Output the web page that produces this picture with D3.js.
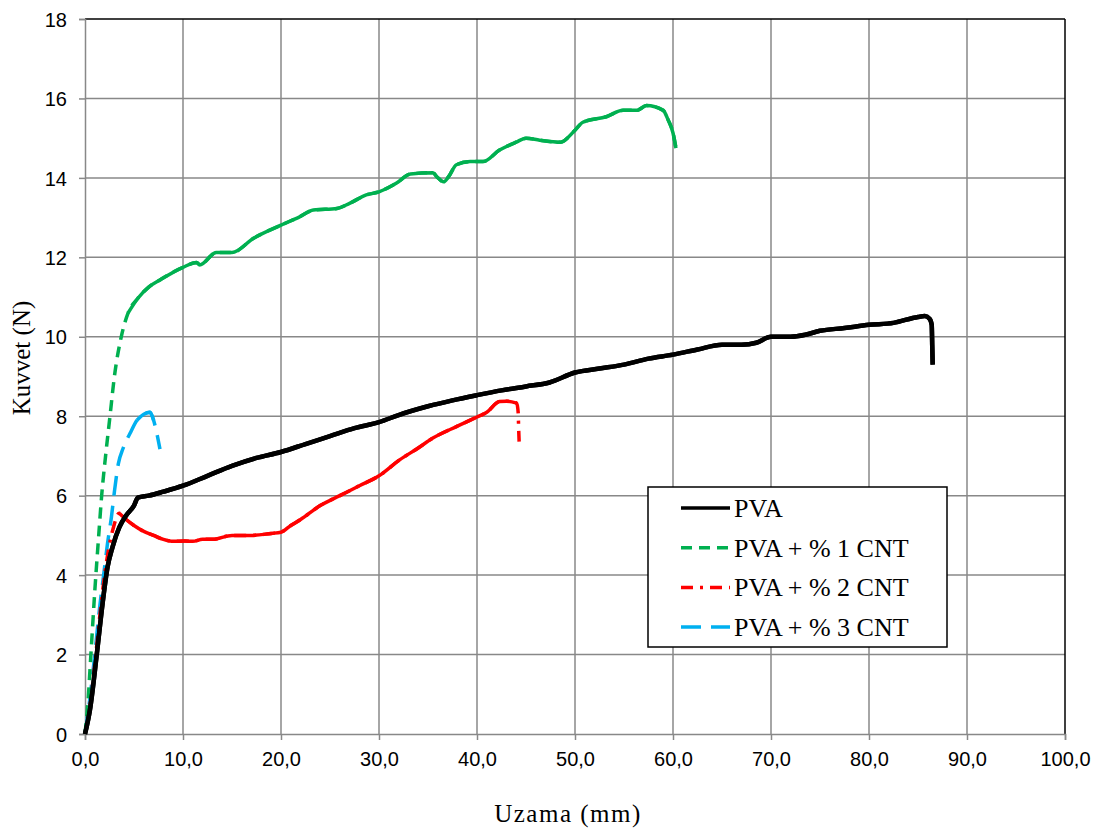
<!DOCTYPE html>
<html>
<head>
<meta charset="utf-8">
<script src="https://cdn.jsdelivr.net/npm/d3@7"></script>
<style>
  body { margin: 0; background: #fff; }
  .tick text { font-family: "Liberation Sans", Arial, sans-serif; font-size: 20px; fill: #000; }
</style>
</head>
<body>
<div id="chart"></div>
<script>
// values: [Uzama (mm), Kuvvet (N)]
var seriesNames = ["PVA", "PVA + % 1 CNT", "PVA + % 2 CNT", "PVA + % 3 CNT"];

var pva = [[0, 0], [0.5, 0.6], [1.2, 2], [1.8, 3.3], [2.3, 4.2], [2.8, 4.7], [3.5, 5.2], [4.2, 5.5],
  [5, 5.75], [5.4, 5.95], [6.5, 6.0], [8, 6.1], [10, 6.25], [12.5, 6.5], [15, 6.75], [17.5, 6.95],
  [20, 7.1], [22.5, 7.3], [25, 7.5], [27.5, 7.7], [30, 7.85], [32, 8.03], [35, 8.25], [37.5, 8.4],
  [40, 8.53], [42.5, 8.65], [45, 8.75], [47.4, 8.85], [50, 9.1], [52.5, 9.2], [55, 9.3], [57.5, 9.45],
  [60, 9.55], [62.5, 9.68], [65, 9.8], [67, 9.8], [68.5, 9.85], [70, 10.0], [72, 10.0], [73.5, 10.05],
  [75, 10.15], [77.5, 10.22], [80, 10.3], [82.5, 10.35], [85, 10.5], [85.7, 10.52], [86.2, 10.45],
  [86.4, 10.3], [86.45, 9.8], [86.5, 9.3]];

var cnt1 = [[0, 0], [0.3, 0.8], [0.6, 2], [1.0, 3.6], [1.4, 5], [1.7, 6], [2.1, 7], [2.55, 8],
  [3.0, 9], [3.7, 10], [4.4, 10.6], [5.4, 10.97], [6.5, 11.25], [7.65, 11.43], [10, 11.75], [11.4, 11.87],
  [11.7, 11.81], [13.4, 12.12], [15, 12.12], [17.2, 12.48], [20, 12.81], [21.9, 13.02], [23.3, 13.19],
  [25.7, 13.23], [27, 13.36], [28.7, 13.57], [30, 13.65], [31.8, 13.87], [33.2, 14.1], [35.5, 14.13],
  [35.9, 14.03], [36.6, 13.9], [37.1, 14.03], [37.9, 14.33], [39.3, 14.41], [40.6, 14.41], [42.3, 14.7],
  [44, 14.9], [45, 15.0], [46.4, 14.95], [48.5, 14.9], [50, 15.2], [50.8, 15.4], [53.2, 15.54],
  [54.9, 15.7], [56.3, 15.7], [57.3, 15.82], [59, 15.7], [59.5, 15.46], [60, 15.13], [60.3, 14.75]];

var cnt2 = [[0, 0], [0.5, 0.7], [1.1, 2], [1.7, 3.4], [2.3, 4.5], [2.9, 5.2], [3.5, 5.56], [4.2, 5.4],
  [5, 5.25], [6, 5.1], [7, 5.0], [8, 4.9], [9, 4.85], [10.2, 4.86], [11, 4.85], [12, 4.9], [13, 4.9],
  [15, 5.0], [17, 5.0], [19, 5.05], [20, 5.08], [21, 5.25], [22, 5.4], [24, 5.75], [26, 6.0],
  [28, 6.25], [30, 6.5], [32.1, 6.9], [34, 7.2], [35.5, 7.45], [38, 7.75], [40, 7.98], [41, 8.1],
  [42.3, 8.37], [43, 8.38], [44.05, 8.33], [44.2, 8.1], [44.25, 7.7], [44.3, 7.36]];

var cnt3 = [[0, 0], [0.5, 0.9], [1.0, 2], [1.5, 3.2], [1.9, 4], [2.3, 4.8], [2.7, 5.47], [3.0, 6.1],
  [3.4, 6.8], [3.9, 7.2], [4.6, 7.57], [5.3, 7.9], [6.0, 8.05], [6.63, 8.1], [7.0, 7.9], [7.3, 7.6],
  [7.65, 7.17]];

var xTicks = d3.range(0, 101, 10);
var yTicks = d3.range(0, 19, 2);

// dense measured stretches look solid in the original, steep sparse ones show the dash
var series = [
  { name: seriesNames[0], values: pva,  color: "#000000", width: 4.5, dash: null,       solid: [0, 100] },
  { name: seriesNames[1], values: cnt1, color: "#00b050", width: 3.5, dash: "11,7",     solid: [4.4, 100] },
  { name: seriesNames[2], values: cnt2, color: "#ff0000", width: 3.5, dash: "12,7,3,7", solid: [3.5, 44.1] },
  { name: seriesNames[3], values: cnt3, color: "#00b0f0", width: 3.5, dash: "20,10",    solid: [5.3, 7.0] }
];

var W = 1101, H = 828;
var margin = { top: 19, right: 36, bottom: 94, left: 85 },
  width = W - margin.left - margin.right,
  height = H - margin.top - margin.bottom;

var svg = d3.select("#chart").append("svg")
  .attr("width", W)
  .attr("height", H);

var g = svg.append("g")
  .attr("transform", "translate(" + margin.left + "," + margin.top + ")");

var x = d3.scaleLinear().domain([0, 100]).range([0, width]);
var y = d3.scaleLinear().domain([0, 18]).range([height, 0]);

var fmt = function(d) { return d3.format(".1f")(d).replace(".", ","); };

// gridlines
g.append("g").selectAll("line").data(xTicks.slice(1, -1)).enter().append("line")
  .attr("x1", function(d) { return x(d); }).attr("x2", function(d) { return x(d); })
  .attr("y1", 0).attr("y2", height)
  .attr("stroke", "#888").attr("stroke-width", 1.5);
g.append("g").selectAll("line").data(yTicks.slice(1, -1)).enter().append("line")
  .attr("y1", function(d) { return y(d); }).attr("y2", function(d) { return y(d); })
  .attr("x1", 0).attr("x2", width)
  .attr("stroke", "#888").attr("stroke-width", 1.5);

// plot border (top and right are dark)
g.append("line").attr("x1", 0).attr("x2", width).attr("y1", 0).attr("y2", 0)
  .attr("stroke", "#000").attr("stroke-width", 1.5);
g.append("line").attr("x1", width).attr("x2", width).attr("y1", 0).attr("y2", height)
  .attr("stroke", "#000").attr("stroke-width", 1.5);

var xAxis = g.append("g")
  .attr("transform", "translate(0," + height + ")")
  .call(d3.axisBottom(x).tickValues(xTicks).tickFormat(fmt).tickSize(6).tickPadding(12));
var yAxis = g.append("g")
  .call(d3.axisLeft(y).tickValues(yTicks).tickFormat(d3.format("d")).tickSize(6).tickPadding(12));
[xAxis, yAxis].forEach(function(a) {
  a.select(".domain").attr("stroke", "#888").attr("stroke-width", 1.5);
  a.selectAll(".tick line").attr("stroke", "#888").attr("stroke-width", 1.5);
});
yAxis.selectAll(".tick text").attr("dy", "0.36em");

// axis titles
svg.append("text")
  .attr("x", 568).attr("y", 822)
  .attr("text-anchor", "middle")
  .style("font-family", "'Liberation Serif', 'Times New Roman', serif")
  .style("font-size", "25px")
  .style("letter-spacing", "1.5px")
  .text("Uzama (mm)");
svg.append("text")
  .attr("transform", "translate(30,358) rotate(-90)")
  .attr("text-anchor", "middle")
  .style("font-family", "'Liberation Serif', 'Times New Roman', serif")
  .style("font-size", "25px")
  .text("Kuvvet (N)");

// lines
var line = d3.line()
  .x(function(d) { return x(d[0]); })
  .y(function(d) { return y(d[1]); })
  .curve(d3.curveMonotoneX);

var sg = g.selectAll(".series").data(series.slice().reverse()).enter().append("g")
  .attr("class", "series")
  .attr("fill", "none")
  .attr("stroke", function(d) { return d.color; })
  .attr("stroke-width", function(d) { return d.width; })
  .attr("stroke-linejoin", "round");

sg.append("path")
  .attr("d", function(d) { return line(d.values); })
  .attr("stroke-dasharray", function(d) { return d.dash; });

sg.append("path")
  .attr("d", function(d) {
    return line(d.values.filter(function(p) { return p[0] >= d.solid[0] && p[0] <= d.solid[1]; }));
  });

// legend
var legend = svg.append("g").attr("transform", "translate(648,487)");
legend.append("rect")
  .attr("width", 299).attr("height", 160)
  .attr("fill", "#fff").attr("stroke", "#000").attr("stroke-width", 1.5);

var item = legend.selectAll(".item").data(series).enter().append("g")
  .attr("class", "item")
  .attr("transform", function(d, i) { return "translate(0," + (21 + i * 39.7) + ")"; });
item.append("line")
  .attr("x1", 33).attr("x2", 82)
  .attr("stroke", function(d) { return d.color; })
  .attr("stroke-width", 3.5)
  .attr("stroke-dasharray", function(d) { return d.dash; });
item.append("text")
  .attr("x", 86).attr("dy", "0.34em")
  .style("font-family", "'Liberation Serif', 'Times New Roman', serif")
  .style("font-size", "26px")
  .text(function(d) { return d.name; });
</script>
</body>
</html>
